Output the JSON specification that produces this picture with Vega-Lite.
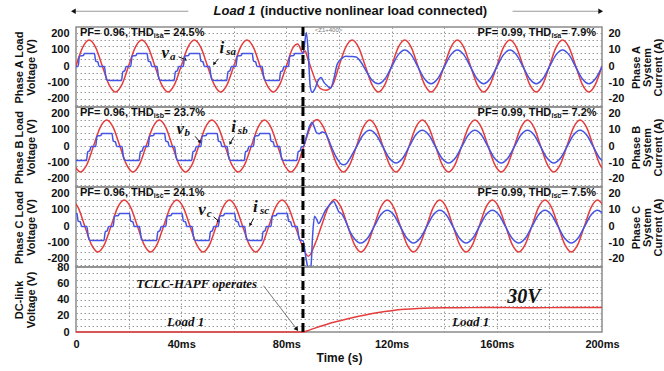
{
"$schema":"https://vega.github.io/schema/vega-lite/v6.json",
"padding":{"left":12,"top":4,"right":0,"bottom":2},
"background":"white",
"spacing":0,
"bounds":"flush",
"config":{
 "font":"Liberation Sans",
 "view":{"stroke":"#8c8c8c","strokeWidth":1.5},
 "axis":{"labelFont":"Liberation Sans","labelFontSize":11,"labelFontWeight":"bold","labelColor":"#111","titleFont":"Liberation Sans","titleFontSize":11,"titleFontWeight":"bold","titleColor":"#111","ticks":false,"domain":false,"labelOverlap":false,"labelFlush":false}
},
"datasets":{
"event":[{"t":86.3}],
"va":[{"t":0,"v":0},{"t":2.5,"v":112},{"t":5,"v":158},{"t":7.5,"v":112},{"t":10,"v":0},{"t":12.5,"v":-112},{"t":15,"v":-158},{"t":17.5,"v":-112},
{"t":20,"v":0},{"t":22.5,"v":112},{"t":25,"v":158},{"t":27.5,"v":112},{"t":30,"v":0},{"t":32.5,"v":-112},{"t":35,"v":-158},{"t":37.5,"v":-112},
{"t":40,"v":0},{"t":42.5,"v":112},{"t":45,"v":158},{"t":47.5,"v":112},{"t":50,"v":0},{"t":52.5,"v":-112},{"t":55,"v":-158},{"t":57.5,"v":-112},
{"t":60,"v":0},{"t":62.5,"v":112},{"t":65,"v":158},{"t":67.5,"v":112},{"t":70,"v":0},{"t":72.5,"v":-112},{"t":75,"v":-158},{"t":77.5,"v":-112},
{"t":80,"v":0},{"t":82.5,"v":112},{"t":84.3,"v":135},{"t":86.3,"v":80},{"t":87.2,"v":92},{"t":88,"v":50},{"t":89.1,"v":0},{"t":91,"v":-85},{"t":93,"v":-138},{"t":95,"v":-148},{"t":97.5,"v":-118},{"t":100,"v":0},
{"t":102.5,"v":112},{"t":105,"v":158},{"t":107.5,"v":112},{"t":110,"v":0},{"t":112.5,"v":-112},{"t":115,"v":-158},{"t":117.5,"v":-112},
{"t":120,"v":0},{"t":122.5,"v":112},{"t":125,"v":158},{"t":127.5,"v":112},{"t":130,"v":0},{"t":132.5,"v":-112},{"t":135,"v":-158},{"t":137.5,"v":-112},
{"t":140,"v":0},{"t":142.5,"v":112},{"t":145,"v":158},{"t":147.5,"v":112},{"t":150,"v":0},{"t":152.5,"v":-112},{"t":155,"v":-158},{"t":157.5,"v":-112},
{"t":160,"v":0},{"t":162.5,"v":112},{"t":165,"v":158},{"t":167.5,"v":112},{"t":170,"v":0},{"t":172.5,"v":-112},{"t":175,"v":-158},{"t":177.5,"v":-112},
{"t":180,"v":0},{"t":182.5,"v":112},{"t":185,"v":158},{"t":187.5,"v":112},{"t":190,"v":0},{"t":192.5,"v":-112},{"t":195,"v":-158},{"t":197.5,"v":-112},{"t":200,"v":0}],
"vb":[{"t":-0.83,"v":-112},{"t":1.67,"v":-158},{"t":4.17,"v":-112},{"t":6.67,"v":0},{"t":9.17,"v":112},{"t":11.67,"v":158},{"t":14.17,"v":112},{"t":16.67,"v":0},{"t":19.17,"v":-112},{"t":21.67,"v":-158},{"t":24.17,"v":-112},{"t":26.67,"v":0},{"t":29.17,"v":112},{"t":31.67,"v":158},{"t":34.17,"v":112},{"t":36.67,"v":0},{"t":39.17,"v":-112},{"t":41.67,"v":-158},{"t":44.17,"v":-112},{"t":46.67,"v":0},{"t":49.17,"v":112},{"t":51.67,"v":158},{"t":54.17,"v":112},{"t":56.67,"v":0},{"t":59.17,"v":-112},{"t":61.67,"v":-158},{"t":64.17,"v":-112},{"t":66.67,"v":0},{"t":69.17,"v":112},{"t":71.67,"v":158},{"t":74.17,"v":112},{"t":76.67,"v":0},{"t":79.17,"v":-112},{"t":81.67,"v":-158},{"t":84.17,"v":-112},{"t":86.67,"v":0},{"t":89.17,"v":118},{"t":91.67,"v":162},{"t":94.17,"v":112},{"t":96.67,"v":0},{"t":99.17,"v":-112},{"t":101.67,"v":-158},{"t":104.17,"v":-112},{"t":106.67,"v":0},{"t":109.17,"v":112},{"t":111.67,"v":158},{"t":114.17,"v":112},{"t":116.67,"v":0},{"t":119.17,"v":-112},{"t":121.67,"v":-158},{"t":124.17,"v":-112},{"t":126.67,"v":0},{"t":129.17,"v":112},{"t":131.67,"v":158},{"t":134.17,"v":112},{"t":136.67,"v":0},{"t":139.17,"v":-112},{"t":141.67,"v":-158},{"t":144.17,"v":-112},{"t":146.67,"v":0},{"t":149.17,"v":112},{"t":151.67,"v":158},{"t":154.17,"v":112},{"t":156.67,"v":0},{"t":159.17,"v":-112},{"t":161.67,"v":-158},{"t":164.17,"v":-112},{"t":166.67,"v":0},{"t":169.17,"v":112},{"t":171.67,"v":158},{"t":174.17,"v":112},{"t":176.67,"v":0},{"t":179.17,"v":-112},{"t":181.67,"v":-158},{"t":184.17,"v":-112},{"t":186.67,"v":0},{"t":189.17,"v":112},{"t":191.67,"v":158},{"t":194.17,"v":112},{"t":196.67,"v":0},{"t":199.17,"v":-112},{"t":201.67,"v":-158}],
"vc":[{"t":-1.67,"v":158},{"t":0.83,"v":112},{"t":3.33,"v":0},{"t":5.83,"v":-112},{"t":8.33,"v":-158},{"t":10.83,"v":-112},{"t":13.33,"v":0},{"t":15.83,"v":112},{"t":18.33,"v":158},{"t":20.83,"v":112},{"t":23.33,"v":0},{"t":25.83,"v":-112},{"t":28.33,"v":-158},{"t":30.83,"v":-112},{"t":33.33,"v":0},{"t":35.83,"v":112},{"t":38.33,"v":158},{"t":40.83,"v":112},{"t":43.33,"v":0},{"t":45.83,"v":-112},{"t":48.33,"v":-158},{"t":50.83,"v":-112},{"t":53.33,"v":0},{"t":55.83,"v":112},{"t":58.33,"v":158},{"t":60.83,"v":112},{"t":63.33,"v":0},{"t":65.83,"v":-112},{"t":68.33,"v":-158},{"t":70.83,"v":-112},{"t":73.33,"v":0},{"t":75.83,"v":112},{"t":78.33,"v":158},{"t":80.83,"v":112},{"t":83.33,"v":0},{"t":85.83,"v":-112},{"t":88.33,"v":-185},{"t":90.83,"v":-112},{"t":93.33,"v":0},{"t":95.83,"v":112},{"t":98.33,"v":162},{"t":100.83,"v":112},{"t":103.33,"v":0},{"t":105.83,"v":-112},{"t":108.33,"v":-158},{"t":110.83,"v":-112},{"t":113.33,"v":0},{"t":115.83,"v":112},{"t":118.33,"v":158},{"t":120.83,"v":112},{"t":123.33,"v":0},{"t":125.83,"v":-112},{"t":128.33,"v":-158},{"t":130.83,"v":-112},{"t":133.33,"v":0},{"t":135.83,"v":112},{"t":138.33,"v":158},{"t":140.83,"v":112},{"t":143.33,"v":0},{"t":145.83,"v":-112},{"t":148.33,"v":-158},{"t":150.83,"v":-112},{"t":153.33,"v":0},{"t":155.83,"v":112},{"t":158.33,"v":158},{"t":160.83,"v":112},{"t":163.33,"v":0},{"t":165.83,"v":-112},{"t":168.33,"v":-158},{"t":170.83,"v":-112},{"t":173.33,"v":0},{"t":175.83,"v":112},{"t":178.33,"v":158},{"t":180.83,"v":112},{"t":183.33,"v":0},{"t":185.83,"v":-112},{"t":188.33,"v":-158},{"t":190.83,"v":-112},{"t":193.33,"v":0},{"t":195.83,"v":112},{"t":198.33,"v":158},{"t":200.83,"v":112}],
"ia":[{"t":0,"i":-0.3},{"t":0.8,"i":-0.3},{"t":1.3,"i":5.8},{"t":1.8,"i":6.2},{"t":2.8,"i":6.4},{"t":3.2,"i":7.6},{"t":7,"i":7.6},{"t":7.5,"i":3},{"t":8.3,"i":2.5},{"t":8.8,"i":-0.3},{"t":10.8,"i":-0.3},{"t":11.3,"i":-6},{"t":11.8,"i":-8.6},{"t":13,"i":-8.8},{"t":17.3,"i":-8.8},{"t":17.8,"i":-3.5},{"t":18.5,"i":-3},{"t":19.1,"i":-0.3},
{"t":20,"i":-0.3},{"t":20.8,"i":-0.3},{"t":21.3,"i":5.8},{"t":21.8,"i":6.2},{"t":22.8,"i":6.4},{"t":23.2,"i":7.6},{"t":27,"i":7.6},{"t":27.5,"i":3},{"t":28.3,"i":2.5},{"t":28.8,"i":-0.3},{"t":30.8,"i":-0.3},{"t":31.3,"i":-6},{"t":31.8,"i":-8.6},{"t":33,"i":-8.8},{"t":37.3,"i":-8.8},{"t":37.8,"i":-3.5},{"t":38.5,"i":-3},{"t":39.1,"i":-0.3},
{"t":40,"i":-0.3},{"t":40.8,"i":-0.3},{"t":41.3,"i":5.8},{"t":41.8,"i":6.2},{"t":42.8,"i":6.4},{"t":43.2,"i":7.6},{"t":47,"i":7.6},{"t":47.5,"i":3},{"t":48.3,"i":2.5},{"t":48.8,"i":-0.3},{"t":50.8,"i":-0.3},{"t":51.3,"i":-6},{"t":51.8,"i":-8.6},{"t":53,"i":-8.8},{"t":57.3,"i":-8.8},{"t":57.8,"i":-3.5},{"t":58.5,"i":-3},{"t":59.1,"i":-0.3},
{"t":60,"i":-0.3},{"t":60.8,"i":-0.3},{"t":61.3,"i":5.8},{"t":61.8,"i":6.2},{"t":62.8,"i":6.4},{"t":63.2,"i":7.6},{"t":67,"i":7.6},{"t":67.5,"i":3},{"t":68.3,"i":2.5},{"t":68.8,"i":-0.3},{"t":70.8,"i":-0.3},{"t":71.3,"i":-6},{"t":71.8,"i":-8.6},{"t":73,"i":-8.8},{"t":77.3,"i":-8.8},{"t":77.8,"i":-3.5},{"t":78.5,"i":-3},{"t":79.1,"i":-0.3},
{"t":80,"i":-0.3},{"t":80.8,"i":-0.3},{"t":81.3,"i":5.8},{"t":81.8,"i":6.2},{"t":82.8,"i":6.4},{"t":83.2,"i":7.6},{"t":86.3,"i":7.6},{"t":86.8,"i":12},{"t":87.6,"i":20.5},{"t":88.3,"i":8},{"t":89.1,"i":-13},{"t":89.8,"i":-16},{"t":90.8,"i":-14},{"t":92,"i":-9},{"t":93.2,"i":-7},{"t":94.3,"i":-10},{"t":95.5,"i":-12},{"t":96.8,"i":-13.5},{"t":98,"i":-8},{"t":99.3,"i":1},{"t":101,"i":4.5},{"t":102.5,"i":6},{"t":104.5,"i":5.8},{"t":106.5,"i":5.5},{"t":108.5,"i":2},{"t":110.5,"i":-3.5},{"t":112.5,"i":-8.5},
{"t":115,"i":-10.8},{"t":117.5,"i":-7.8},{"t":120,"i":-0.5},{"t":122.5,"i":6.8},{"t":125,"i":9.8},{"t":127.5,"i":6.8},{"t":130,"i":-0.5},{"t":132.5,"i":-7.8},{"t":135,"i":-10.8},{"t":137.5,"i":-7.8},{"t":140,"i":-0.5},{"t":142.5,"i":6.8},{"t":145,"i":9.8},{"t":147.5,"i":6.8},{"t":150,"i":-0.5},{"t":152.5,"i":-7.8},{"t":155,"i":-10.8},{"t":157.5,"i":-7.8},{"t":160,"i":-0.5},{"t":162.5,"i":6.8},{"t":165,"i":9.8},{"t":167.5,"i":6.8},{"t":170,"i":-0.5},{"t":172.5,"i":-7.8},{"t":175,"i":-10.8},{"t":177.5,"i":-7.8},{"t":180,"i":-0.5},{"t":182.5,"i":6.8},{"t":185,"i":9.8},{"t":187.5,"i":6.8},{"t":190,"i":-0.5},{"t":192.5,"i":-7.8},{"t":195,"i":-10.8},{"t":197.5,"i":-7.8},{"t":200,"i":-0.5}],
"ib":[{"t":-0.33,"i":-8.8},{"t":3.97,"i":-8.8},{"t":4.47,"i":-3.5},{"t":5.17,"i":-3},{"t":5.77,"i":-0.3},
{"t":6.67,"i":-0.3},{"t":7.47,"i":-0.3},{"t":7.97,"i":5.8},{"t":8.47,"i":6.2},{"t":9.47,"i":6.4},{"t":9.87,"i":7.6},{"t":13.67,"i":7.6},{"t":14.17,"i":3},{"t":14.97,"i":2.5},{"t":15.47,"i":-0.3},{"t":17.47,"i":-0.3},{"t":17.97,"i":-6},{"t":18.47,"i":-8.6},{"t":19.67,"i":-8.8},{"t":23.97,"i":-8.8},{"t":24.47,"i":-3.5},{"t":25.17,"i":-3},{"t":25.77,"i":-0.3},
{"t":26.67,"i":-0.3},{"t":27.47,"i":-0.3},{"t":27.97,"i":5.8},{"t":28.47,"i":6.2},{"t":29.47,"i":6.4},{"t":29.87,"i":7.6},{"t":33.67,"i":7.6},{"t":34.17,"i":3},{"t":34.97,"i":2.5},{"t":35.47,"i":-0.3},{"t":37.47,"i":-0.3},{"t":37.97,"i":-6},{"t":38.47,"i":-8.6},{"t":39.67,"i":-8.8},{"t":43.97,"i":-8.8},{"t":44.47,"i":-3.5},{"t":45.17,"i":-3},{"t":45.77,"i":-0.3},
{"t":46.67,"i":-0.3},{"t":47.47,"i":-0.3},{"t":47.97,"i":5.8},{"t":48.47,"i":6.2},{"t":49.47,"i":6.4},{"t":49.87,"i":7.6},{"t":53.67,"i":7.6},{"t":54.17,"i":3},{"t":54.97,"i":2.5},{"t":55.47,"i":-0.3},{"t":57.47,"i":-0.3},{"t":57.97,"i":-6},{"t":58.47,"i":-8.6},{"t":59.67,"i":-8.8},{"t":63.97,"i":-8.8},{"t":64.47,"i":-3.5},{"t":65.17,"i":-3},{"t":65.77,"i":-0.3},
{"t":66.67,"i":-0.3},{"t":67.47,"i":-0.3},{"t":67.97,"i":5.8},{"t":68.47,"i":6.2},{"t":69.47,"i":6.4},{"t":69.87,"i":7.6},{"t":73.67,"i":7.6},{"t":74.17,"i":3},{"t":74.97,"i":2.5},{"t":75.47,"i":-0.3},{"t":77.47,"i":-0.3},{"t":77.97,"i":-6},{"t":78.47,"i":-8.6},{"t":79.67,"i":-8.8},{"t":83.97,"i":-8.8},{"t":84.47,"i":-3.5},{"t":85.17,"i":-3},{"t":85.77,"i":-0.3},
{"t":86.3,"i":-0.5},{"t":87.5,"i":5},{"t":88.8,"i":12},{"t":89.8,"i":14.5},{"t":90.5,"i":12},{"t":91.5,"i":8},{"t":92.5,"i":7.5},{"t":93.5,"i":8.5},{"t":94.7,"i":8},{"t":96,"i":4},{"t":97.5,"i":-2},{"t":99,"i":-7},{"t":100.5,"i":-10.5},{"t":101.8,"i":-11.5},{"t":103,"i":-10.5},
{"t":104.17,"i":-7.5},{"t":106.67,"i":-0.4},{"t":109.17,"i":6.7},{"t":111.67,"i":9.6},{"t":114.17,"i":6.7},{"t":116.67,"i":-0.4},{"t":119.17,"i":-7.5},{"t":121.67,"i":-10.4},{"t":124.17,"i":-7.5},{"t":126.67,"i":-0.4},{"t":129.17,"i":6.7},{"t":131.67,"i":9.6},{"t":134.17,"i":6.7},{"t":136.67,"i":-0.4},{"t":139.17,"i":-7.5},{"t":141.67,"i":-10.4},{"t":144.17,"i":-7.5},{"t":146.67,"i":-0.4},{"t":149.17,"i":6.7},{"t":151.67,"i":9.6},{"t":154.17,"i":6.7},{"t":156.67,"i":-0.4},{"t":159.17,"i":-7.5},{"t":161.67,"i":-10.4},{"t":164.17,"i":-7.5},{"t":166.67,"i":-0.4},{"t":169.17,"i":6.7},{"t":171.67,"i":9.6},{"t":174.17,"i":6.7},{"t":176.67,"i":-0.4},{"t":179.17,"i":-7.5},{"t":181.67,"i":-10.4},{"t":184.17,"i":-7.5},{"t":186.67,"i":-0.4},{"t":189.17,"i":6.7},{"t":191.67,"i":9.6},{"t":194.17,"i":6.7},{"t":196.67,"i":-0.4},{"t":199.17,"i":-7.5},{"t":201.67,"i":-10.4}],
"ic":[{"t":-3.47,"i":7.6},{"t":0.33,"i":7.6},{"t":0.83,"i":3},{"t":1.63,"i":2.5},{"t":2.13,"i":-0.3},{"t":4.13,"i":-0.3},{"t":4.63,"i":-6},{"t":5.13,"i":-8.6},{"t":6.33,"i":-8.8},{"t":10.63,"i":-8.8},{"t":11.13,"i":-3.5},{"t":11.83,"i":-3},{"t":12.43,"i":-0.3},
{"t":13.33,"i":-0.3},{"t":14.13,"i":-0.3},{"t":14.63,"i":5.8},{"t":15.13,"i":6.2},{"t":16.13,"i":6.4},{"t":16.53,"i":7.6},{"t":20.33,"i":7.6},{"t":20.83,"i":3},{"t":21.63,"i":2.5},{"t":22.13,"i":-0.3},{"t":24.13,"i":-0.3},{"t":24.63,"i":-6},{"t":25.13,"i":-8.6},{"t":26.33,"i":-8.8},{"t":30.63,"i":-8.8},{"t":31.13,"i":-3.5},{"t":31.83,"i":-3},{"t":32.43,"i":-0.3},
{"t":33.33,"i":-0.3},{"t":34.13,"i":-0.3},{"t":34.63,"i":5.8},{"t":35.13,"i":6.2},{"t":36.13,"i":6.4},{"t":36.53,"i":7.6},{"t":40.33,"i":7.6},{"t":40.83,"i":3},{"t":41.63,"i":2.5},{"t":42.13,"i":-0.3},{"t":44.13,"i":-0.3},{"t":44.63,"i":-6},{"t":45.13,"i":-8.6},{"t":46.33,"i":-8.8},{"t":50.63,"i":-8.8},{"t":51.13,"i":-3.5},{"t":51.83,"i":-3},{"t":52.43,"i":-0.3},
{"t":53.33,"i":-0.3},{"t":54.13,"i":-0.3},{"t":54.63,"i":5.8},{"t":55.13,"i":6.2},{"t":56.13,"i":6.4},{"t":56.53,"i":7.6},{"t":60.33,"i":7.6},{"t":60.83,"i":3},{"t":61.63,"i":2.5},{"t":62.13,"i":-0.3},{"t":64.13,"i":-0.3},{"t":64.63,"i":-6},{"t":65.13,"i":-8.6},{"t":66.33,"i":-8.8},{"t":70.63,"i":-8.8},{"t":71.13,"i":-3.5},{"t":71.83,"i":-3},{"t":72.43,"i":-0.3},
{"t":73.33,"i":-0.3},{"t":74.13,"i":-0.3},{"t":74.63,"i":5.8},{"t":75.13,"i":6.2},{"t":76.13,"i":6.4},{"t":76.53,"i":7.6},{"t":80.33,"i":7.6},{"t":80.83,"i":3},{"t":81.63,"i":2.5},{"t":82.13,"i":-0.3},{"t":84.13,"i":-0.3},{"t":84.63,"i":-6},{"t":85.13,"i":-8.6},
{"t":86.3,"i":-9},{"t":87.5,"i":-20},{"t":88.5,"i":-27},{"t":89.3,"i":-25},{"t":90,"i":-5},{"t":90.7,"i":6},{"t":91.5,"i":4},{"t":92.3,"i":1.5},{"t":93.5,"i":5},{"t":95,"i":10},{"t":96.5,"i":13},{"t":98,"i":15},{"t":99,"i":12},{"t":100,"i":8.5},{"t":101,"i":7.5},{"t":102.5,"i":3},{"t":104,"i":-3},{"t":106,"i":-8},
{"t":108.33,"i":-10.4},{"t":110.83,"i":-7.5},{"t":113.33,"i":-0.4},{"t":115.83,"i":6.7},{"t":118.33,"i":9.6},{"t":120.83,"i":6.7},{"t":123.33,"i":-0.4},{"t":125.83,"i":-7.5},{"t":128.33,"i":-10.4},{"t":130.83,"i":-7.5},{"t":133.33,"i":-0.4},{"t":135.83,"i":6.7},{"t":138.33,"i":9.6},{"t":140.83,"i":6.7},{"t":143.33,"i":-0.4},{"t":145.83,"i":-7.5},{"t":148.33,"i":-10.4},{"t":150.83,"i":-7.5},{"t":153.33,"i":-0.4},{"t":155.83,"i":6.7},{"t":158.33,"i":9.6},{"t":160.83,"i":6.7},{"t":163.33,"i":-0.4},{"t":165.83,"i":-7.5},{"t":168.33,"i":-10.4},{"t":170.83,"i":-7.5},{"t":173.33,"i":-0.4},{"t":175.83,"i":6.7},{"t":178.33,"i":9.6},{"t":180.83,"i":6.7},{"t":183.33,"i":-0.4},{"t":185.83,"i":-7.5},{"t":188.33,"i":-10.4},{"t":190.83,"i":-7.5},{"t":193.33,"i":-0.4},{"t":195.83,"i":6.7},{"t":198.33,"i":9.6},{"t":200.83,"i":6.7}],
"vdc":[{"t":0,"v":0},{"t":86.3,"v":0},{"t":88,"v":1.5},{"t":90,"v":3.8},{"t":93,"v":7},{"t":96,"v":10.2},{"t":100,"v":13.5},{"t":105,"v":17.5},{"t":110,"v":21},{"t":115,"v":24},{"t":120,"v":26.3},{"t":125,"v":27.9},{"t":130,"v":28.9},{"t":135,"v":29.5},{"t":140,"v":29.8},{"t":150,"v":30},{"t":160,"v":30.1},{"t":170,"v":29.9},{"t":180,"v":30},{"t":190,"v":30.1},{"t":200,"v":30.2}],
"notes":[
{"panel":"A","kind":"pf","text":"PF= 0.96, THD","t":1.5,"v":202},
{"panel":"A","kind":"pfsub","text":"isa","t":29.6,"v":186},
{"panel":"A","kind":"pf","text":"= 24.5%","t":33.4,"v":202},
{"panel":"A","kind":"pf","text":"PF= 0.99, THD","t":152.7,"v":202},
{"panel":"A","kind":"pfsub","text":"isa","t":180.8,"v":186},
{"panel":"A","kind":"pf","text":"= 7.9%","t":184.6,"v":202},
{"panel":"A","kind":"sym","text":"v","t":33.9,"v":80},
{"panel":"A","kind":"symsub","text":"a","t":36.8,"v":58},
{"panel":"A","kind":"sym","text":"i","t":55.5,"v":110},
{"panel":"A","kind":"symsub","text":"sa","t":59,"v":88},
{"panel":"A","kind":"title1","text":"Load 1","t":52.3,"v":334},
{"panel":"A","kind":"title2","text":"(inductive nonlinear load connected)","t":70.1,"v":334},
{"panel":"A","kind":"tiny","text":"<Z1+400>","t":96,"v":222},
{"panel":"B","kind":"pf","text":"PF= 0.96, THD","t":1.5,"v":202},
{"panel":"B","kind":"pfsub","text":"isb","t":29.6,"v":186},
{"panel":"B","kind":"pf","text":"= 23.7%","t":33.6,"v":202},
{"panel":"B","kind":"pf","text":"PF= 0.99, THD","t":152.7,"v":202},
{"panel":"B","kind":"pfsub","text":"isb","t":180.8,"v":186},
{"panel":"B","kind":"pf","text":"= 7.2%","t":184.8,"v":202},
{"panel":"B","kind":"sym","text":"v","t":39.6,"v":103},
{"panel":"B","kind":"symsub","text":"b","t":42.3,"v":81},
{"panel":"B","kind":"sym","text":"i","t":59.9,"v":113},
{"panel":"B","kind":"symsub","text":"sb","t":63.4,"v":91},
{"panel":"C","kind":"pf","text":"PF= 0.96, THD","t":1.5,"v":202},
{"panel":"C","kind":"pfsub","text":"isc","t":29.6,"v":186},
{"panel":"C","kind":"pf","text":"= 24.1%","t":33.4,"v":202},
{"panel":"C","kind":"pf","text":"PF= 0.99, THD","t":152.7,"v":202},
{"panel":"C","kind":"pfsub","text":"isc","t":180.8,"v":186},
{"panel":"C","kind":"pf","text":"= 7.5%","t":184.6,"v":202},
{"panel":"C","kind":"sym","text":"v","t":47.9,"v":96},
{"panel":"C","kind":"symsub","text":"c","t":50.6,"v":74},
{"panel":"C","kind":"sym","text":"i","t":68.2,"v":116},
{"panel":"C","kind":"symsub","text":"sc","t":71.7,"v":94},
{"panel":"D","kind":"load","text":"TCLC-HAPF operates","t":45.9,"v":59},
{"panel":"D","kind":"load","text":"Load 1","t":41.7,"v":12.5},
{"panel":"D","kind":"load","text":"Load 1","t":150.1,"v":12.5},
{"panel":"D","kind":"big","text":"30V","t":170.3,"v":43}
],
"arrows":[
{"panel":"A","kind":"v","t":39,"v":56,"t2":41.5,"v2":40},
{"panel":"A","kind":"i","t":54.2,"v":44,"t2":52.6,"v2":16},
{"panel":"B","kind":"v","t":45.3,"v":59,"t2":47,"v2":27},
{"panel":"B","kind":"i","t":59.9,"v":53,"t2":58.7,"v2":19},
{"panel":"C","kind":"v","t":52.3,"v":56,"t2":54.2,"v2":30},
{"panel":"C","kind":"i","t":67.5,"v":46,"t2":66.3,"v2":10},
{"panel":"A","kind":"left","t":42.7,"v":334,"t2":-1,"v2":334},
{"panel":"A","kind":"right","t":166,"v":334,"t2":199.5,"v2":334},
{"panel":"D","kind":"op","t":71.3,"v":57,"t2":83.8,"v2":4}
]
},
"vconcat":[
{
 "width":526,"height":80,
 "resolve":{"scale":{"x":"independent","y":"independent"}},
 "layer":[
  {"data":{"name":"va"},"mark":{"type":"line","opacity":0},
   "encoding":{"x":{"field":"t","type":"quantitative","scale":{"domain":[0,200],"nice":false},"axis":{"orient":"bottom","values":[20,40,60,80,100,120,140,160,180],"grid":true,"gridColor":"#9a9a9a","gridDash":[1.5,2.5],"labels":false,"title":null,"zindex":0}},
    "y":{"field":"v","type":"quantitative","scale":{"domain":[-250,238],"nice":false},"axis":{"orient":"left","values":[-240,-200,-160,-120,-80,-40,0,40,80,120,160,200],"grid":true,"gridColor":"#9a9a9a","gridDash":[1.5,2.5],"labels":false,"title":null,"minExtent":0,"maxExtent":0,"zindex":0}}}},
  {"layer":[
   {"data":{"name":"va"},"mark":{"type":"line","interpolate":"monotone","color":"#e63c3c","strokeWidth":1.5,"clip":true},
    "encoding":{"x":{"field":"t","type":"quantitative","scale":{"domain":[0,200],"nice":false},"axis":null},
     "y":{"field":"v","type":"quantitative","scale":{"domain":[-250,238],"nice":false},"axis":{"orient":"left","values":[-200,-100,0,100,200],"tickCount":10,"grid":false,"labelExpr":"'' + datum.value","labelPadding":7,"minExtent":36,"maxExtent":36,"title":["Phase A Load","Voltage (V)"],"titlePadding":4,"titleLineHeight":12}}}},
   {"data":{"name":"notes"},"transform":[{"filter":"datum.panel == 'A' && datum.kind == 'pf'"}],"mark":{"type":"text","align":"left","baseline":"middle","font":"Liberation Sans","fontWeight":"bold","fontSize":11,"color":"#111"},"encoding":{"x":{"field":"t","type":"quantitative","axis":null},"y":{"field":"v","type":"quantitative"},"text":{"field":"text"}}},
   {"data":{"name":"notes"},"transform":[{"filter":"datum.panel == 'A' && datum.kind == 'pfsub'"}],"mark":{"type":"text","align":"left","baseline":"middle","font":"Liberation Sans","fontWeight":"bold","fontSize":7,"color":"#111"},"encoding":{"x":{"field":"t","type":"quantitative","axis":null},"y":{"field":"v","type":"quantitative"},"text":{"field":"text"}}},
   {"data":{"name":"notes"},"transform":[{"filter":"datum.panel == 'A' && datum.kind == 'sym'"}],"mark":{"type":"text","align":"center","baseline":"middle","font":"Liberation Serif","fontStyle":"italic","fontWeight":"bold","fontSize":17,"color":"#111"},"encoding":{"x":{"field":"t","type":"quantitative","axis":null},"y":{"field":"v","type":"quantitative"},"text":{"field":"text"}}},
   {"data":{"name":"notes"},"transform":[{"filter":"datum.panel == 'A' && datum.kind == 'symsub'"}],"mark":{"type":"text","align":"center","baseline":"middle","font":"Liberation Serif","fontStyle":"italic","fontWeight":"bold","fontSize":11,"color":"#111"},"encoding":{"x":{"field":"t","type":"quantitative","axis":null},"y":{"field":"v","type":"quantitative"},"text":{"field":"text"}}},
   {"data":{"name":"notes"},"transform":[{"filter":"datum.panel == 'A' && datum.kind == 'title1'"}],"mark":{"type":"text","align":"left","baseline":"middle","font":"Liberation Sans","fontStyle":"italic","fontWeight":"bold","fontSize":13,"color":"#111"},"encoding":{"x":{"field":"t","type":"quantitative","axis":null},"y":{"field":"v","type":"quantitative"},"text":{"field":"text"}}},
   {"data":{"name":"notes"},"transform":[{"filter":"datum.panel == 'A' && datum.kind == 'title2'"}],"mark":{"type":"text","align":"left","baseline":"middle","font":"Liberation Sans","fontWeight":"bold","fontSize":13,"color":"#111"},"encoding":{"x":{"field":"t","type":"quantitative","axis":null},"y":{"field":"v","type":"quantitative"},"text":{"field":"text"}}},
   {"data":{"name":"notes"},"transform":[{"filter":"datum.panel == 'A' && datum.kind == 'tiny'"}],"mark":{"type":"text","align":"center","baseline":"middle","fontSize":6,"color":"#777"},"encoding":{"x":{"field":"t","type":"quantitative","axis":null},"y":{"field":"v","type":"quantitative"},"text":{"field":"text"}}},
   {"data":{"name":"arrows"},"transform":[{"filter":"datum.panel == 'A' && (datum.kind == 'v' || datum.kind == 'i')"}],"mark":{"type":"rule","color":"#111","strokeWidth":1},"encoding":{"x":{"field":"t","type":"quantitative","axis":null},"x2":{"field":"t2"},"y":{"field":"v","type":"quantitative"},"y2":{"field":"v2"}}},
   {"data":{"name":"arrows"},"transform":[{"filter":"datum.panel == 'A' && (datum.kind == 'left' || datum.kind == 'right')"}],"mark":{"type":"rule","color":"#9a9a9a","strokeWidth":1},"encoding":{"x":{"field":"t","type":"quantitative","axis":null},"x2":{"field":"t2"},"y":{"field":"v","type":"quantitative"},"y2":{"field":"v2"}}},
   {"data":{"name":"arrows"},"transform":[{"filter":"datum.panel == 'A' && datum.kind == 'v'"}],"mark":{"type":"point","shape":"triangle","angle":125,"filled":true,"opacity":1,"size":14,"color":"#111"},"encoding":{"x":{"field":"t2","type":"quantitative","axis":null},"y":{"field":"v2","type":"quantitative"}}},
   {"data":{"name":"arrows"},"transform":[{"filter":"datum.panel == 'A' && datum.kind == 'i'"}],"mark":{"type":"point","shape":"triangle","angle":215,"filled":true,"opacity":1,"size":14,"color":"#111"},"encoding":{"x":{"field":"t2","type":"quantitative","axis":null},"y":{"field":"v2","type":"quantitative"}}},
   {"data":{"name":"arrows"},"transform":[{"filter":"datum.panel == 'A' && datum.kind == 'left'"}],"mark":{"type":"point","shape":"triangle-left","filled":true,"opacity":1,"size":30,"color":"#111"},"encoding":{"x":{"field":"t2","type":"quantitative","axis":null},"y":{"field":"v2","type":"quantitative"}}},
   {"data":{"name":"arrows"},"transform":[{"filter":"datum.panel == 'A' && datum.kind == 'right'"}],"mark":{"type":"point","shape":"triangle-right","filled":true,"opacity":1,"size":30,"color":"#111"},"encoding":{"x":{"field":"t2","type":"quantitative","axis":null},"y":{"field":"v2","type":"quantitative"}}}
  ]},
  {"layer":[
   {"data":{"name":"ia"},"mark":{"type":"line","interpolate":"monotone","color":"#4455e6","strokeWidth":1.5,"clip":true},
    "encoding":{"x":{"field":"t","type":"quantitative","scale":{"domain":[0,200],"nice":false},"axis":null},
     "y":{"field":"i","type":"quantitative","scale":{"domain":[-25,23.8],"nice":false},"axis":{"orient":"right","values":[-20,-10,0,10,20],"tickCount":10,"grid":false,"labelExpr":"'' + datum.value","labelPadding":6,"title":["Phase A","System","Current (A)"],"titleX":28,"titleY":40,"titleAlign":"center","titleAngle":-90,"titleBaseline":"top","titleLineHeight":11}}}},
   {"data":{"name":"event"},"mark":{"type":"rule","strokeDash":[9,5],"strokeWidth":3,"color":"#000"},"encoding":{"x":{"field":"t","type":"quantitative","axis":null}}}
  ]}
 ]
},
{
 "width":526,"height":80,
 "resolve":{"scale":{"x":"independent","y":"independent"}},
 "layer":[
  {"data":{"name":"vb"},"mark":{"type":"line","opacity":0},
   "encoding":{"x":{"field":"t","type":"quantitative","scale":{"domain":[0,200],"nice":false},"axis":{"orient":"bottom","values":[20,40,60,80,100,120,140,160,180],"grid":true,"gridColor":"#9a9a9a","gridDash":[1.5,2.5],"labels":false,"title":null,"zindex":0}},
    "y":{"field":"v","type":"quantitative","scale":{"domain":[-250,238],"nice":false},"axis":{"orient":"left","values":[-240,-200,-160,-120,-80,-40,0,40,80,120,160,200],"grid":true,"gridColor":"#9a9a9a","gridDash":[1.5,2.5],"labels":false,"title":null,"minExtent":0,"maxExtent":0,"zindex":0}}}},
  {"layer":[
   {"data":{"name":"vb"},"mark":{"type":"line","interpolate":"monotone","color":"#e63c3c","strokeWidth":1.5,"clip":true},
    "encoding":{"x":{"field":"t","type":"quantitative","scale":{"domain":[0,200],"nice":false},"axis":null},
     "y":{"field":"v","type":"quantitative","scale":{"domain":[-250,238],"nice":false},"axis":{"orient":"left","values":[-200,-100,0,100,200],"tickCount":10,"grid":false,"labelExpr":"'' + datum.value","labelPadding":7,"minExtent":36,"maxExtent":36,"title":["Phase B Load","Voltage (V)"],"titlePadding":4,"titleLineHeight":12}}}},
   {"data":{"name":"notes"},"transform":[{"filter":"datum.panel == 'B' && datum.kind == 'pf'"}],"mark":{"type":"text","align":"left","baseline":"middle","font":"Liberation Sans","fontWeight":"bold","fontSize":11,"color":"#111"},"encoding":{"x":{"field":"t","type":"quantitative","axis":null},"y":{"field":"v","type":"quantitative"},"text":{"field":"text"}}},
   {"data":{"name":"notes"},"transform":[{"filter":"datum.panel == 'B' && datum.kind == 'pfsub'"}],"mark":{"type":"text","align":"left","baseline":"middle","font":"Liberation Sans","fontWeight":"bold","fontSize":7,"color":"#111"},"encoding":{"x":{"field":"t","type":"quantitative","axis":null},"y":{"field":"v","type":"quantitative"},"text":{"field":"text"}}},
   {"data":{"name":"notes"},"transform":[{"filter":"datum.panel == 'B' && datum.kind == 'sym'"}],"mark":{"type":"text","align":"center","baseline":"middle","font":"Liberation Serif","fontStyle":"italic","fontWeight":"bold","fontSize":17,"color":"#111"},"encoding":{"x":{"field":"t","type":"quantitative","axis":null},"y":{"field":"v","type":"quantitative"},"text":{"field":"text"}}},
   {"data":{"name":"notes"},"transform":[{"filter":"datum.panel == 'B' && datum.kind == 'symsub'"}],"mark":{"type":"text","align":"center","baseline":"middle","font":"Liberation Serif","fontStyle":"italic","fontWeight":"bold","fontSize":11,"color":"#111"},"encoding":{"x":{"field":"t","type":"quantitative","axis":null},"y":{"field":"v","type":"quantitative"},"text":{"field":"text"}}},
   {"data":{"name":"arrows"},"transform":[{"filter":"datum.panel == 'B' && (datum.kind == 'v' || datum.kind == 'i')"}],"mark":{"type":"rule","color":"#111","strokeWidth":1},"encoding":{"x":{"field":"t","type":"quantitative","axis":null},"x2":{"field":"t2"},"y":{"field":"v","type":"quantitative"},"y2":{"field":"v2"}}},
   {"data":{"name":"arrows"},"transform":[{"filter":"datum.panel == 'B' && datum.kind == 'v'"}],"mark":{"type":"point","shape":"triangle","angle":140,"filled":true,"opacity":1,"size":14,"color":"#111"},"encoding":{"x":{"field":"t2","type":"quantitative","axis":null},"y":{"field":"v2","type":"quantitative"}}},
   {"data":{"name":"arrows"},"transform":[{"filter":"datum.panel == 'B' && datum.kind == 'i'"}],"mark":{"type":"point","shape":"triangle","angle":210,"filled":true,"opacity":1,"size":14,"color":"#111"},"encoding":{"x":{"field":"t2","type":"quantitative","axis":null},"y":{"field":"v2","type":"quantitative"}}}
  ]},
  {"layer":[
   {"data":{"name":"ib"},"mark":{"type":"line","interpolate":"monotone","color":"#4455e6","strokeWidth":1.5,"clip":true},
    "encoding":{"x":{"field":"t","type":"quantitative","scale":{"domain":[0,200],"nice":false},"axis":null},
     "y":{"field":"i","type":"quantitative","scale":{"domain":[-25,23.8],"nice":false},"axis":{"orient":"right","values":[-20,-10,0,10,20],"tickCount":10,"grid":false,"labelExpr":"'' + datum.value","labelPadding":6,"title":["Phase B","System","Current (A)"],"titleX":28,"titleY":40,"titleAlign":"center","titleAngle":-90,"titleBaseline":"top","titleLineHeight":11}}}},
   {"data":{"name":"event"},"mark":{"type":"rule","strokeDash":[9,5],"strokeWidth":3,"color":"#000"},"encoding":{"x":{"field":"t","type":"quantitative","axis":null}}}
  ]}
 ]
},
{
 "width":526,"height":80,
 "resolve":{"scale":{"x":"independent","y":"independent"}},
 "layer":[
  {"data":{"name":"vc"},"mark":{"type":"line","opacity":0},
   "encoding":{"x":{"field":"t","type":"quantitative","scale":{"domain":[0,200],"nice":false},"axis":{"orient":"bottom","values":[20,40,60,80,100,120,140,160,180],"grid":true,"gridColor":"#9a9a9a","gridDash":[1.5,2.5],"labels":false,"title":null,"zindex":0}},
    "y":{"field":"v","type":"quantitative","scale":{"domain":[-250,238],"nice":false},"axis":{"orient":"left","values":[-240,-200,-160,-120,-80,-40,0,40,80,120,160,200],"grid":true,"gridColor":"#9a9a9a","gridDash":[1.5,2.5],"labels":false,"title":null,"minExtent":0,"maxExtent":0,"zindex":0}}}},
  {"layer":[
   {"data":{"name":"vc"},"mark":{"type":"line","interpolate":"monotone","color":"#e63c3c","strokeWidth":1.5,"clip":true},
    "encoding":{"x":{"field":"t","type":"quantitative","scale":{"domain":[0,200],"nice":false},"axis":null},
     "y":{"field":"v","type":"quantitative","scale":{"domain":[-250,238],"nice":false},"axis":{"orient":"left","values":[-200,-100,0,100,200],"tickCount":10,"grid":false,"labelExpr":"'' + datum.value","labelPadding":7,"minExtent":36,"maxExtent":36,"title":["Phase C Load","Voltage (V)"],"titlePadding":4,"titleLineHeight":12}}}},
   {"data":{"name":"notes"},"transform":[{"filter":"datum.panel == 'C' && datum.kind == 'pf'"}],"mark":{"type":"text","align":"left","baseline":"middle","font":"Liberation Sans","fontWeight":"bold","fontSize":11,"color":"#111"},"encoding":{"x":{"field":"t","type":"quantitative","axis":null},"y":{"field":"v","type":"quantitative"},"text":{"field":"text"}}},
   {"data":{"name":"notes"},"transform":[{"filter":"datum.panel == 'C' && datum.kind == 'pfsub'"}],"mark":{"type":"text","align":"left","baseline":"middle","font":"Liberation Sans","fontWeight":"bold","fontSize":7,"color":"#111"},"encoding":{"x":{"field":"t","type":"quantitative","axis":null},"y":{"field":"v","type":"quantitative"},"text":{"field":"text"}}},
   {"data":{"name":"notes"},"transform":[{"filter":"datum.panel == 'C' && datum.kind == 'sym'"}],"mark":{"type":"text","align":"center","baseline":"middle","font":"Liberation Serif","fontStyle":"italic","fontWeight":"bold","fontSize":17,"color":"#111"},"encoding":{"x":{"field":"t","type":"quantitative","axis":null},"y":{"field":"v","type":"quantitative"},"text":{"field":"text"}}},
   {"data":{"name":"notes"},"transform":[{"filter":"datum.panel == 'C' && datum.kind == 'symsub'"}],"mark":{"type":"text","align":"center","baseline":"middle","font":"Liberation Serif","fontStyle":"italic","fontWeight":"bold","fontSize":11,"color":"#111"},"encoding":{"x":{"field":"t","type":"quantitative","axis":null},"y":{"field":"v","type":"quantitative"},"text":{"field":"text"}}},
   {"data":{"name":"arrows"},"transform":[{"filter":"datum.panel == 'C' && (datum.kind == 'v' || datum.kind == 'i')"}],"mark":{"type":"rule","color":"#111","strokeWidth":1},"encoding":{"x":{"field":"t","type":"quantitative","axis":null},"x2":{"field":"t2"},"y":{"field":"v","type":"quantitative"},"y2":{"field":"v2"}}},
   {"data":{"name":"arrows"},"transform":[{"filter":"datum.panel == 'C' && datum.kind == 'v'"}],"mark":{"type":"point","shape":"triangle","angle":131,"filled":true,"opacity":1,"size":14,"color":"#111"},"encoding":{"x":{"field":"t2","type":"quantitative","axis":null},"y":{"field":"v2","type":"quantitative"}}},
   {"data":{"name":"arrows"},"transform":[{"filter":"datum.panel == 'C' && datum.kind == 'i'"}],"mark":{"type":"point","shape":"triangle","angle":209,"filled":true,"opacity":1,"size":14,"color":"#111"},"encoding":{"x":{"field":"t2","type":"quantitative","axis":null},"y":{"field":"v2","type":"quantitative"}}}
  ]},
  {"layer":[
   {"data":{"name":"ic"},"mark":{"type":"line","interpolate":"monotone","color":"#4455e6","strokeWidth":1.5,"clip":true},
    "encoding":{"x":{"field":"t","type":"quantitative","scale":{"domain":[0,200],"nice":false},"axis":null},
     "y":{"field":"i","type":"quantitative","scale":{"domain":[-25,23.8],"nice":false},"axis":{"orient":"right","values":[-20,-10,0,10,20],"tickCount":10,"grid":false,"labelExpr":"'' + datum.value","labelPadding":6,"title":["Phase C","System","Current (A)"],"titleX":28,"titleY":40,"titleAlign":"center","titleAngle":-90,"titleBaseline":"top","titleLineHeight":11}}}},
   {"data":{"name":"event"},"mark":{"type":"rule","strokeDash":[9,5],"strokeWidth":3,"color":"#000"},"encoding":{"x":{"field":"t","type":"quantitative","axis":null}}}
  ]}
 ]
},
{
 "width":526,"height":65,
 "resolve":{"scale":{"x":"independent","y":"independent"}},
 "layer":[
  {"data":{"name":"vdc"},"mark":{"type":"line","opacity":0},
   "encoding":{"x":{"field":"t","type":"quantitative","scale":{"domain":[0,200],"nice":false},"axis":{"orient":"bottom","values":[20,40,60,80,100,120,140,160,180],"grid":true,"gridColor":"#9a9a9a","gridDash":[1.5,2.5],"labels":false,"title":null,"zindex":0}},
    "y":{"field":"v","type":"quantitative","scale":{"domain":[0,80],"nice":false},"axis":{"orient":"left","values":[8,16,24,32,40,48,56,64,72],"grid":true,"gridColor":"#9a9a9a","gridDash":[1.5,2.5],"labels":false,"title":null,"minExtent":0,"maxExtent":0,"zindex":0}}}},
  {"layer":[
   {"data":{"name":"vdc"},"mark":{"type":"line","interpolate":"monotone","color":"#e63c3c","strokeWidth":1.5},
    "encoding":{"x":{"field":"t","type":"quantitative","scale":{"domain":[0,200],"nice":false},"axis":{"orient":"bottom","values":[0,40,80,120,160,200],"tickCount":10,"grid":false,"labelExpr":"datum.value == 0 ? '0' : datum.value + 'ms'","labelPadding":6,"title":"Time (s)","titleFontSize":12,"titlePadding":3}},
     "y":{"field":"v","type":"quantitative","scale":{"domain":[0,80],"nice":false},"axis":{"orient":"left","values":[0,20,40,60,80],"tickCount":10,"grid":false,"labelExpr":"'' + datum.value","labelPadding":7,"minExtent":36,"maxExtent":36,"title":["DC-link","Voltage (V)"],"titlePadding":4,"titleLineHeight":12}}}},
   {"data":{"name":"event"},"mark":{"type":"rule","strokeDash":[9,5],"strokeWidth":3,"color":"#000"},"encoding":{"x":{"field":"t","type":"quantitative"}}},
   {"data":{"name":"notes"},"transform":[{"filter":"datum.panel == 'D' && datum.kind == 'load'"}],"mark":{"type":"text","align":"center","baseline":"middle","font":"Liberation Serif","fontStyle":"italic","fontWeight":"bold","fontSize":13,"color":"#111"},"encoding":{"x":{"field":"t","type":"quantitative"},"y":{"field":"v","type":"quantitative"},"text":{"field":"text"}}},
   {"data":{"name":"notes"},"transform":[{"filter":"datum.panel == 'D' && datum.kind == 'big'"}],"mark":{"type":"text","align":"center","baseline":"middle","font":"Liberation Serif","fontStyle":"italic","fontWeight":"bold","fontSize":20,"color":"#111"},"encoding":{"x":{"field":"t","type":"quantitative"},"y":{"field":"v","type":"quantitative"},"text":{"field":"text"}}},
   {"data":{"name":"arrows"},"transform":[{"filter":"datum.panel == 'D'"}],"mark":{"type":"rule","color":"#777","strokeWidth":1},"encoding":{"x":{"field":"t","type":"quantitative"},"x2":{"field":"t2"},"y":{"field":"v","type":"quantitative"},"y2":{"field":"v2"}}},
   {"data":{"name":"arrows"},"transform":[{"filter":"datum.panel == 'D'"}],"mark":{"type":"point","shape":"triangle","angle":143,"filled":true,"opacity":1,"size":25,"color":"#111"},"encoding":{"x":{"field":"t2","type":"quantitative"},"y":{"field":"v2","type":"quantitative"}}}
  ]}
 ]
}
]
}
